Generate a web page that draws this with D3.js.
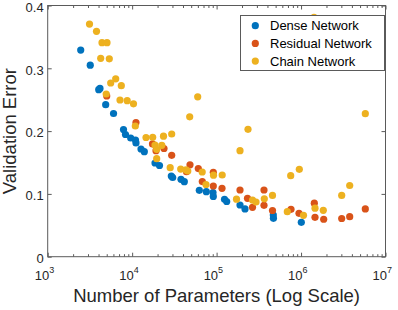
<!DOCTYPE html>
<html>
<head>
<meta charset="utf-8">
<script src="https://cdn.jsdelivr.net/npm/d3@7"></script>
<style>
  body { margin: 0; background: #fff; }
  svg { display: block; font-family: "Liberation Sans", Arial, Helvetica, sans-serif; }
</style>
</head>
<body>
<div id="chart"></div>
<script>
const width = 398;
const height = 310;

// data (params, validation error)
const denseParams = [2460, 3190, 4020, 4160, 4860, 6020, 7900, 8340, 9610, 10960, 11100, 12730, 13930,
  18650, 21080, 29080, 30210, 37880, 41460, 62400, 75510, 90660, 91400, 124100, 131700, 189300, 216900,
  469300, 471000, 1007000];
const denseError = [0.329, 0.305, 0.266, 0.268, 0.242, 0.228, 0.2025, 0.1946, 0.189, 0.1858, 0.1811, 0.1715, 0.1672,
  0.1492, 0.1452, 0.1285, 0.1261, 0.1232, 0.1194, 0.1057, 0.1035, 0.1022, 0.0959, 0.0914, 0.0879, 0.0823, 0.076,
  0.0664, 0.0611, 0.0548];

const residualParams = [5000, 11100, 17420, 19160, 23830, 29390, 48420, 60730, 44010, 67720, 91400, 91400, 115900,
  189300, 364100, 232200, 364100, 266200, 459100, 760300, 945600, 1435000, 1463000, 1854000, 3029000, 3768000, 5767000];
const residualError = [0.2559, 0.2137, 0.1795, 0.1688, 0.1723, 0.1615, 0.1463, 0.1404, 0.1354, 0.1197, 0.1344, 0.1126, 0.1089,
  0.1062, 0.1062, 0.093, 0.0818, 0.0787, 0.0736, 0.0755, 0.0691, 0.0852, 0.0627, 0.0596, 0.0608, 0.0637, 0.076];

const chainParams = [3126, 3784, 4395, 5038, 4242, 5362, 6387, 5572, 7439, 4929, 7180, 8738, 10370, 10900,
  14590, 17510, 23500, 29390, 18650, 22440, 19530, 19530, 28220, 37580, 43420, 45600, 67530, 91900, 116500,
  74900, 59750, 48030, 189300, 235400, 172000, 266200, 292800, 367100, 459100, 754100, 953500, 687500,
  1069000, 1463000, 1834000, 3029000, 3768000, 5767000, 1423000];
const chainError = [0.3705, 0.3589, 0.3408, 0.3408, 0.3159, 0.3151, 0.2833, 0.2766, 0.2723, 0.2591, 0.2495, 0.2484, 0.2435, 0.2081,
  0.1898, 0.1901, 0.1919, 0.1954, 0.1779, 0.1774, 0.171, 0.1561, 0.1417, 0.1396, 0.1381, 0.1365, 0.1349, 0.1298, 0.1301,
  0.115, 0.2546, 0.2228, 0.1688, 0.2029, 0.0916, 0.0903, 0.0871, 0.0922, 0.0975, 0.129, 0.1392, 0.0717,
  0.0659, 0.0772, 0.0739, 0.0975, 0.1134, 0.2277, 0.3812];

const seriesNames = ["Dense Network", "Residual Network", "Chain Network"];
const seriesColors = ["#0072BD", "#D95319", "#EDB120"];
const yTicks = [0, 0.1, 0.2, 0.3, 0.4];
const xDecades = [1e3, 1e4, 1e5, 1e6, 1e7];

const series = [
  { name: seriesNames[0], color: seriesColors[0], pts: denseParams.map((p, i) => [p, denseError[i]]) },
  { name: seriesNames[1], color: seriesColors[1], pts: residualParams.map((p, i) => [p, residualError[i]]) },
  { name: seriesNames[2], color: seriesColors[2], pts: chainParams.map((p, i) => [p, chainError[i]]) }
];

const plotL = 47.7, plotR = 385.5, plotT = 5.5, plotB = 256.7;
const axisColor = "#262626";
const lineColor = "#5a5a5a";

const x = d3.scaleLog().domain([1e3, 1e7]).range([plotL, plotR]);
const y = d3.scaleLinear().domain([0, 0.4]).range([plotB, plotT]);

const svg = d3.select("#chart").append("svg")
  .attr("width", width)
  .attr("height", height);

// all log ticks (majors + minors)
const allX = [];
for (let d = 3; d < 7; d++) {
  for (let m = 1; m < 10; m++) allX.push(m * Math.pow(10, d));
}
allX.push(1e7);
const isMajor = v => Math.abs(Math.log10(v) - Math.round(Math.log10(v))) < 1e-9;

// === Axes (ticks inward, box on) ===
const gxB = svg.append("g").attr("transform", `translate(0,${plotB})`)
  .call(d3.axisBottom(x).tickValues(allX).tickFormat("").tickSizeInner(-4).tickSizeOuter(0));
const gxT = svg.append("g").attr("transform", `translate(0,${plotT})`)
  .call(d3.axisTop(x).tickValues(allX).tickFormat("").tickSizeInner(-4).tickSizeOuter(0));
[gxB, gxT].forEach((g, k) => {
  g.select(".domain").remove();
  g.selectAll(".tick line")
    .attr("stroke", lineColor)
    .attr("y2", d => (isMajor(d) ? 4 : 2.5) * (k === 0 ? -1 : 1));
});

const gyL = svg.append("g").attr("transform", `translate(${plotL},0)`)
  .call(d3.axisLeft(y).tickValues(yTicks).tickFormat("").tickSizeInner(-4).tickSizeOuter(0));
const gyR = svg.append("g").attr("transform", `translate(${plotR},0)`)
  .call(d3.axisRight(y).tickValues(yTicks).tickFormat("").tickSizeInner(-4).tickSizeOuter(0));
[gyL, gyR].forEach(g => {
  g.select(".domain").remove();
  g.selectAll(".tick line").attr("stroke", lineColor);
});

// box
svg.append("rect")
  .attr("x", plotL).attr("y", plotT)
  .attr("width", plotR - plotL).attr("height", plotB - plotT)
  .attr("fill", "none")
  .attr("stroke", lineColor)
  .attr("stroke-width", 1);

// y tick labels
svg.append("g").selectAll("text")
  .data(yTicks)
  .join("text")
  .attr("x", plotL - 4)
  .attr("y", d => y(d) + 1.6)
  .attr("dy", "0.36em")
  .attr("text-anchor", "end")
  .attr("fill", axisColor)
  .style("font-size", "13px")
  .text(d => d === 0 ? "0" : d3.format(".1f")(d));

// x tick labels 10^n
const xl = svg.append("g").selectAll("g")
  .data(xDecades)
  .join("g");
xl.append("text")
  .attr("x", d => x(d) + 1.5)
  .attr("y", 279.5)
  .attr("text-anchor", "end")
  .attr("fill", axisColor)
  .style("font-size", "13px")
  .text("10");
xl.append("text")
  .attr("x", d => x(d) + 1.5)
  .attr("y", 273)
  .attr("text-anchor", "start")
  .attr("fill", axisColor)
  .style("font-size", "9px")
  .text(d => Math.round(Math.log10(d)));

// axis titles
svg.append("text")
  .attr("x", (plotL + plotR) / 2)
  .attr("y", 302)
  .attr("text-anchor", "middle")
  .attr("fill", axisColor)
  .style("font-size", "18.5px")
  .text("Number of Parameters (Log Scale)");

svg.append("text")
  .attr("transform", `translate(15.5,${(plotT + plotB) / 2}) rotate(-90)`)
  .attr("text-anchor", "middle")
  .attr("fill", axisColor)
  .style("font-size", "18.5px")
  .text("Validation Error");

// === Points ===
series.forEach(s => {
  svg.append("g").selectAll("circle")
    .data(s.pts)
    .join("circle")
    .attr("cx", d => x(d[0]))
    .attr("cy", d => y(d[1]))
    .attr("r", 3.6)
    .attr("fill", s.color);
});

// === Legend ===
const legend = svg.append("g").attr("transform", "translate(240.5,15.5)");
legend.append("rect")
  .attr("width", 144)
  .attr("height", 55)
  .attr("fill", "#fff")
  .attr("stroke", lineColor)
  .attr("stroke-width", 1);
const rows = legend.selectAll("g.row")
  .data(series)
  .join("g")
  .attr("class", "row")
  .attr("transform", (d, i) => `translate(0,${10.2 + i * 17.7})`);
rows.append("circle")
  .attr("cx", 14.8)
  .attr("r", 3.6)
  .attr("fill", d => d.color);
rows.append("text")
  .attr("x", 29.5)
  .attr("dy", "0.36em")
  .attr("fill", "#000")
  .style("font-size", "13px")
  .text(d => d.name);
</script>
</body>
</html>
